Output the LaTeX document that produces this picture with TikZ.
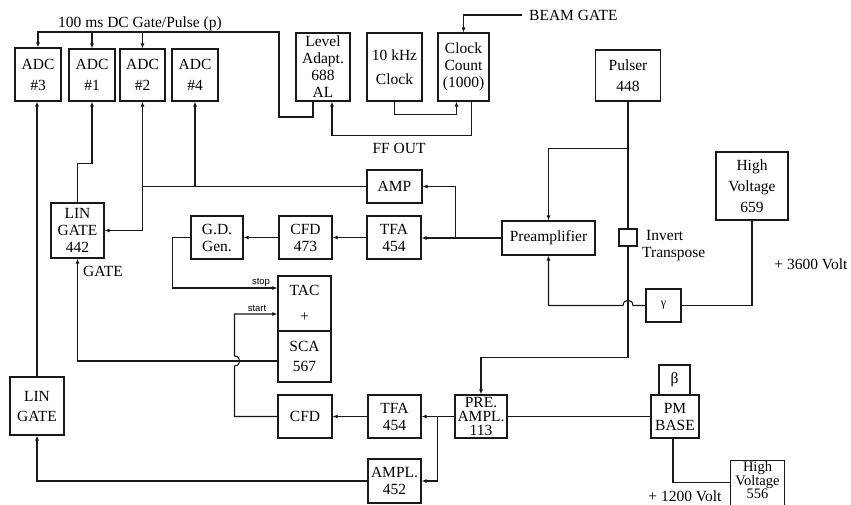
\documentclass[tikz,border=0pt]{standalone}
\usepackage{fontspec}
\setmainfont{Liberation Serif}
\setsansfont{Liberation Sans}
\usetikzlibrary{arrows.meta, positioning, calc}
\definecolor{mydark}{RGB}{25,25,25}
\tikzset{
  box/.style={rectangle, draw=mydark, line width=1.1pt, inner sep=0pt,
    align=center, font=\fontsize{15.5}{17}\selectfont},
  arrow/.style={-{Latex[length=5pt,width=4pt]}, line width=1.1pt, color=mydark},
  line/.style={line width=1.1pt, color=mydark},
  lbl/.style={font=\fontsize{15.5}{17}\selectfont, inner sep=0pt},
  tinylbl/.style={font=\sffamily\fontsize{9.5}{11}\selectfont, inner sep=0pt}
}

\begin{document}
\begin{tikzpicture}[x=1pt, y=-1pt]
  \useasboundingbox (0,0) rectangle (851,504);

  % ADC row
  \node[box, minimum width=46pt, minimum height=53pt] (adc3) at (38,74.5) {ADC\\[4pt]\#3};
  \node[box, minimum width=46pt, minimum height=52pt] (adc1) at (92,75) {ADC\\[4pt]\#1};
  \node[box, minimum width=45pt, minimum height=52pt] (adc2) at (142.5,75) {ADC\\[4pt]\#2};
  \node[box, minimum width=46pt, minimum height=52pt] (adc4) at (195,75) {ADC\\[4pt]\#4};

  % Clock and gate logic
  \node[box, minimum width=54pt, minimum height=68pt] (lvl) at (323,67) {Level\\Adapt.\\688\\AL};
  \node[box, minimum width=55pt, minimum height=68pt] (clk) at (394.5,67) {10 kHz\\[7pt]Clock};
  \node[box, minimum width=51pt, minimum height=68pt] (cnt) at (463.5,67) {Clock\\Count\\(1000)};
  \node[box, minimum width=65pt, minimum height=51pt] (pulser) at (628,75.5) {Pulser\\[4pt]448};

  % Upper (gamma) branch
  \node[box, minimum width=55pt, minimum height=33pt] (amp) at (394.5,186.5) {AMP};
  \node[box, minimum width=53pt, minimum height=55pt] (lingA) at (77.5,230.5) {LIN\\GATE\\442};
  \node[box, minimum width=52pt, minimum height=43pt] (gd) at (217,237.5) {G.D.\\Gen.};
  \node[box, minimum width=53pt, minimum height=43pt] (cfdA) at (305.5,237.5) {CFD\\473};
  \node[box, minimum width=54pt, minimum height=43pt] (tfaA) at (394,237.5) {TFA\\454};
  \node[box, minimum width=93pt, minimum height=34pt] (pre) at (548.5,238) {Preamplifier};
  \node[box, minimum width=18pt, minimum height=17pt] (inv) at (628,237.5) {};
  \node[box, minimum width=72pt, minimum height=68pt] (hv1) at (752,186) {High\\[4pt]Voltage\\[4pt]659};
  \node[box, minimum width=35pt, minimum height=33pt, font=\fontsize{12}{14}\selectfont] (gam) at (663.5,305.5) {γ};

  % TAC / SCA
  \node[box, minimum width=53pt, minimum height=55pt] (tac) at (304.5,303.5) {TAC\\[9pt]+};
  \node[box, minimum width=53pt, minimum height=51pt] (sca) at (304.5,356.5) {SCA\\[3pt]567};

  % Lower (beta) branch
  \node[box, minimum width=54pt, minimum height=43pt] (cfdB) at (305,416.5) {CFD};
  \node[box, minimum width=53pt, minimum height=43pt] (tfaB) at (394.5,416.5) {TFA\\454};
  \node[box, minimum width=53pt, minimum height=44pt] (amplB) at (394.5,481) {AMPL.\\452};
  \node[box, minimum width=54pt, minimum height=58pt] (linB) at (37,406) {LIN\\[3pt]GATE};
  \node[box, minimum width=52pt, minimum height=43pt, font=\fontsize{15.5}{14}\selectfont] (preB) at (481,416.5) {PRE.\\AMPL.\\113};
  \node[box, minimum width=48pt, minimum height=43pt] (pm) at (675,416.5) {PM\\BASE};
  \node[box, minimum width=31pt, minimum height=30pt] (beta) at (674.5,380) {β};
  \node[box, draw=none, minimum width=53pt, minimum height=34pt, font=\fontsize{14.5}{11}\selectfont] (hv2) at (757.5,480) {High\\Voltage\\556};
  \draw[line] ([yshift=-8pt]hv2.south west) |- (hv2.north east) -- ([yshift=-8pt]hv2.south east);

  % Labels
  \node[lbl] (gatelbl) at (140,24) {100 ms DC Gate/Pulse (p)};
  \node[lbl, anchor=west, inner xsep=7pt] (beam) at (522,15) {BEAM GATE};
  \node[lbl] (ffout) at (399,148) {FF OUT};
  \node[lbl] (gatein) at (103,271) {GATE};
  \node[tinylbl] (stoplbl) at (261,282) {stop};
  \node[tinylbl] (startlbl) at (257,308) {start};
  \node[lbl, anchor=west, align=left] (invlbl) at (642,246) {\hspace{4pt}Invert\\Transpose};
  \node[lbl] (hv1volt) at (811,264) {+ 3600 Volt};
  \node[lbl] (hv2volt) at (685,496) {+ 1200 Volt};

  % Gate distribution to ADCs
  \coordinate (gbend) at (279,117);
  \coordinate (gtop) at (279,32);
  \draw[arrow] ([xshift=-10pt]lvl.south) |- (gbend) -- (gtop) -| (adc3.north);
  \draw[arrow] (adc1.north |- gtop) -- (adc1.north);
  \draw[arrow] (adc2.north |- gtop) -- (adc2.north);

  % Beam gate and clock
  \draw[arrow] (beam.west) -| (cnt.north);
  \draw[arrow] (clk.south) -- ++(0,13) -| ([xshift=-7pt]cnt.south);
  \draw[arrow] ([xshift=8pt]cnt.south) -- ++(0,34) -| ([xshift=9pt]lvl.south);

  % Pulser line
  \draw[line] (pulser.south) -- (inv.north);
  \coordinate (pbr) at ([yshift=-47pt]pulser.south);
  \draw[arrow] (pbr) -| (pre.north);
  \draw[arrow] (inv.south) -- ++(0,111) -| (preB.north);

  % Gamma detector
  \coordinate (jg) at (inv.south |- gam.west);
  \draw[arrow] (gam.west) -- ([xshift=5pt]jg)
    .. controls ([xshift=5pt,yshift=7pt]jg) and ([xshift=-5pt,yshift=7pt]jg) .. ([xshift=-5pt]jg)
    -| (pre.south);
  \draw[line] (gam.east) -| (hv1.south);

  % Preamplifier outputs
  \draw[arrow] (pre.west) -- (pre.west -| tfaA.east);
  \coordinate (pa) at ([xshift=-46pt]pre.west);
  \draw[arrow] (pa) |- (amp.east);
  \draw[arrow] (tfaA.west) -- (cfdA.east);
  \draw[arrow] (cfdA.west) -- (gd.east);

  % AMP to ADCs and LIN GATE
  \coordinate (aj) at (adc2.south |- amp.west);
  \draw[line] (amp.west) -- (aj);
  \draw[arrow] (adc4.south |- amp.west) -- (adc4.south);
  \draw[arrow] (aj) -- (adc2.south);
  \draw[arrow] (aj) |- (lingA.east);
  \draw[arrow] (lingA.north) -- ++(0,-39) -| (adc1.south);

  % TAC stop / start, SCA gate
  \draw[arrow] (gd.west) -- ++(-18,0) |- ([yshift=15.5pt]tac.west);
  \coordinate (js) at ([xshift=-43pt,yshift=-4.5pt]sca.west);
  \draw[arrow] (cfdB.west) -| ([yshift=-5pt]js)
    .. controls ([xshift=7pt,yshift=-5pt]js) and ([xshift=7pt,yshift=5pt]js) .. ([yshift=5pt]js)
    |- ([yshift=-10.5pt]tac.west);
  \draw[arrow] ([yshift=-4.5pt]sca.west) -| (lingA.south);

  % Lower branch
  \draw[arrow] (preB.west) -- (tfaB.east);
  \coordinate (pt) at ([xshift=-17pt]preB.west);
  \draw[arrow] (pt) |- (amplB.east);
  \draw[arrow] (tfaB.west) -- (cfdB.east);
  \draw[arrow] (amplB.west) -| (linB.south);
  \draw[arrow] (linB.north) -- (linB.north |- adc3.south);
  \draw[line] (pm.west) -- (preB.east);
  \draw[line] ([xshift=-2pt]pm.south) |- ([yshift=-22pt]hv2.north west);
\end{tikzpicture}
\end{document}
